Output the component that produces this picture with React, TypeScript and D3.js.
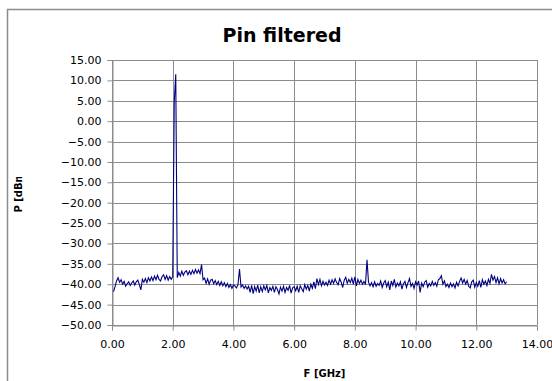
import React, { useEffect, useRef } from 'react';
import * as d3 from 'd3';

// sweep: 0.05 GHz steps, 0.05 .. 13.00 GHz
const freqStart = 0.05;
const freqStep = 0.05;

// power readings [dBm], one row per GHz
const power: number[] = [
  // 0.05 - 1.00
  -41.8, -40.6, -39.2, -38.4, -39.5, -38.9, -40.0, -39.3, -40.5, -39.9, -39.4, -40.3, -39.7, -39.2, -40.2, -39.4, -39.0, -40.1, -41.4, -38.8,
  // 1.05 - 2.00
  -39.5, -38.6, -39.6, -38.4, -39.2, -38.2, -39.1, -38.0, -38.9, -37.8, -38.8, -39.2, -38.1, -37.7, -38.8, -37.9, -39.0, -38.1, -38.8, -38.2,
  // 2.05 - 3.00
  4.5, 11.5, -38.4, -37.1, -38.0, -36.8, -37.8, -37.0, -36.7, -37.7, -36.8, -37.6, -36.6, -37.4, -36.4, -37.3, -36.5, -37.4, -35.2, -38.9,
  // 3.05 - 4.00
  -38.5, -39.8, -38.7, -40.0, -39.0, -38.8, -39.9, -39.1, -40.1, -39.3, -40.3, -39.4, -40.4, -39.6, -40.6, -39.8, -40.8, -40.1, -41.0, -40.2,
  // 4.05 - 5.00
  -40.4, -40.9, -40.1, -36.3, -40.7, -40.2, -41.0, -40.4, -41.2, -40.5, -42.0, -40.3, -42.3, -40.6, -41.7, -40.2, -42.1, -40.6, -41.8, -40.4,
  // 5.05 - 6.00
  -41.4, -40.3, -42.1, -40.8, -41.5, -40.5, -42.0, -40.6, -41.3, -42.4, -40.7, -41.7, -40.5, -42.0, -40.8, -41.5, -40.3, -42.2, -40.9, -40.6,
  // 6.05 - 7.00
  -41.6, -40.5, -42.0, -40.4, -41.1, -41.8, -40.1, -41.2, -40.3, -41.7, -40.0, -41.0, -39.4, -41.1, -38.6, -40.1, -38.8, -40.4, -39.3, -40.2,
  // 7.05 - 8.00
  -39.5, -40.3, -39.0, -40.0, -38.9, -39.8, -38.7, -39.6, -40.1, -38.6, -39.5, -40.8, -39.0, -38.3, -39.8, -38.8, -39.6, -38.5, -40.0, -38.2,
  // 8.05 - 9.00
  -40.4, -38.8, -39.8, -39.0, -40.0, -39.3, -40.1, -34.0, -39.5, -40.4, -39.6, -40.6, -39.4, -40.5, -39.8, -40.3, -39.2, -40.8, -39.7, -39.1,
  // 9.05 - 10.00
  -40.6, -39.5, -41.4, -39.2, -40.3, -38.8, -40.7, -39.7, -40.4, -39.4, -41.2, -39.9, -39.3, -40.8, -39.6, -38.6, -40.5, -39.8, -41.0, -39.4,
  // 10.05 - 11.00
  -40.2, -39.2, -42.0, -39.7, -40.6, -39.5, -39.1, -40.7, -39.8, -40.4, -39.3, -40.3, -39.6, -40.5, -38.9, -38.6, -37.9, -40.0, -39.2, -40.6,
  // 11.05 - 12.00
  -40.0, -40.8, -39.7, -40.6, -39.9, -40.9, -39.5, -40.4, -39.3, -38.5, -39.7, -38.8, -40.0, -39.1, -40.5, -40.9, -39.4, -39.0, -40.7, -39.6,
  // 12.05 - 13.00
  -40.5, -39.1, -40.8, -38.9, -40.0, -39.2, -40.3, -38.8, -39.8, -37.6, -39.0, -38.1, -39.6, -38.4, -39.9, -38.6, -39.7, -38.9, -39.9, -39.4,
];

const xTicks = [0, 2, 4, 6, 8, 10, 12, 14];
const yTicks = [15, 10, 5, 0, -5, -10, -15, -20, -25, -30, -35, -40, -45, -50];

const title = 'Pin filtered';
const xTitle = 'F [GHz]';
const yTitle = 'P [dBm]';

const App = () => {
  const svgRef = useRef<SVGSVGElement>(null);

  useEffect(() => {
    const width = 552;
    const height = 381;
    const plot = { left: 112, right: 537, top: 60, bottom: 325 };
    const font = "'DejaVu Sans', Verdana, sans-serif";

    const svg = d3.select(svgRef.current);
    svg.selectAll('*').remove();
    svg.attr('width', width).attr('height', height);

    // chart frame
    svg.append('rect')
      .attr('x', 7.5).attr('y', 9.5)
      .attr('width', 570).attr('height', 390)
      .attr('fill', 'white')
      .attr('stroke', '#8c8c8c')
      .attr('stroke-width', 1.5);

    const x = d3.scaleLinear().domain([0, 14]).range([plot.left, plot.right]);
    const y = d3.scaleLinear().domain([-50, 15]).range([plot.bottom, plot.top]);

    const data = power.map((p, i) => ({ f: freqStart + freqStep * i, p }));

    // grid
    svg.append('g')
      .selectAll('line')
      .data(yTicks)
      .enter().append('line')
      .attr('x1', plot.left).attr('x2', plot.right)
      .attr('y1', d => Math.round(y(d)) + 0.5).attr('y2', d => Math.round(y(d)) + 0.5)
      .attr('stroke', '#8c8c8c');

    svg.append('g')
      .selectAll('line')
      .data(xTicks)
      .enter().append('line')
      .attr('y1', plot.top).attr('y2', plot.bottom)
      .attr('x1', d => Math.round(x(d)) + 0.5).attr('x2', d => Math.round(x(d)) + 0.5)
      .attr('stroke', '#8c8c8c');

    // axes
    const xAxis = svg.append('g')
      .attr('transform', `translate(0,${Math.round(y(-50)) + 0.5})`)
      .call(d3.axisBottom(x).tickValues(xTicks).tickFormat(d3.format('.2f')).tickSize(5).tickPadding(10));
    const yAxis = svg.append('g')
      .attr('transform', `translate(${Math.round(x(0)) + 0.5},0)`)
      .call(d3.axisLeft(y).tickValues(yTicks).tickFormat(d3.format('.2f')).tickSize(5).tickPadding(6));

    [xAxis, yAxis].forEach(a => {
      a.select('.domain').attr('stroke', '#8c8c8c');
      a.selectAll('.tick line').attr('stroke', '#8c8c8c');
      a.selectAll('text')
        .attr('fill', '#000')
        .style('font-family', font)
        .style('font-size', '11px');
    });

    // series
    const line = d3.line<{ f: number; p: number }>()
      .x(d => x(d.f))
      .y(d => y(d.p));

    svg.append('path')
      .datum(data)
      .attr('d', line)
      .attr('fill', 'none')
      .attr('stroke', '#000080')
      .attr('stroke-width', 1.1);

    // titles
    svg.append('text')
      .attr('x', 282).attr('y', 42)
      .attr('text-anchor', 'middle')
      .style('font-family', font)
      .style('font-weight', 'bold')
      .style('font-size', '19px')
      .text(title);

    svg.append('text')
      .attr('x', (plot.left + plot.right) / 2).attr('y', 377)
      .attr('text-anchor', 'middle')
      .style('font-family', font)
      .style('font-weight', 'bold')
      .style('font-size', '10px')
      .text(xTitle);

    // y title is cut off at the top in the original, keep that
    svg.append('defs').append('clipPath')
      .attr('id', 'ytitle-clip')
      .append('rect')
      .attr('x', 0).attr('y', 177).attr('width', 40).attr('height', 100);

    svg.append('g')
      .attr('clip-path', 'url(#ytitle-clip)')
      .append('text')
      .attr('transform', 'translate(22,190) rotate(-90)')
      .attr('text-anchor', 'middle')
      .style('font-family', font)
      .style('font-weight', 'bold')
      .style('font-size', '10px')
      .text(yTitle);
  }, []);

  return (
    <svg ref={svgRef} style={{ position: 'absolute', left: 0, top: 0, display: 'block' }} />
  );
};

export default App;
